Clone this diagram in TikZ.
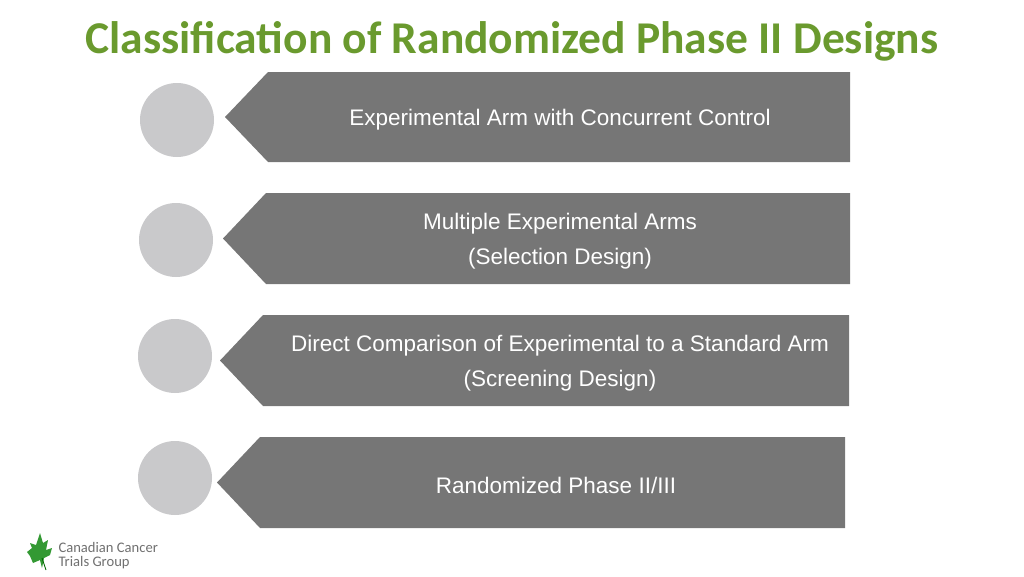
\documentclass[tikz,border=0pt]{standalone}
\usepackage{fontspec}
\setmainfont{Liberation Sans}
\newfontfamily\calib{Carlito}
\definecolor{titlegreen}{HTML}{6A9A2E}
\definecolor{boxgray}{HTML}{767676}
\definecolor{circgray}{HTML}{C9C9CB}
\definecolor{logogray}{HTML}{707070}
\tikzset{
  arrowbox/.style={fill=boxgray},
  bullet/.style={circle,fill=circgray,minimum size=74pt,inner sep=0pt},
  boxtext/.style={text=white,font=\fontsize{22.5}{35}\selectfont,align=center},
}
\begin{document}
\begin{tikzpicture}[x=1pt,y=-1pt]
\useasboundingbox (0,0) rectangle (1024,576);
\node (title) at (512,41) {\calib\bfseries\fontsize{45.5}{50}\selectfont\color{titlegreen}Classification of Randomized Phase II Designs};
\foreach \i/\tip/\top/\bot/\lb/\rt/\cx/\cy in {1/225/72/162/268/850/177/120, 2/223/193/284/266/850/176/240, 3/220/315/406/263/849/175/356, 4/217/437/528/260/845/175/478}{
  \fill[arrowbox] (\tip,{(\top+\bot)/2}) -- (\lb,\top) -- (\rt,\top) -- (\rt,\bot) -- (\lb,\bot) -- cycle;
  \node[bullet] (c\i) at (\cx,\cy) {};
}
\node[boxtext] (t1) at (560,120) {Experimental Arm with Concurrent Control};
\node[boxtext] (t2) at (560,241) {Multiple Experimental Arms\\(Selection Design)};
\node[boxtext] (t3) at (560,363) {Direct Comparison of Experimental to a Standard Arm\\(Screening Design)};
\node[boxtext] (t4) at (556,485) {Randomized Phase II/III};
% logo
\fill[green!50!black!80] (40,533) -- (43,543) -- (48,540) -- (46,550) -- (52,548) -- (50,555) -- (44,558) -- (42,568) -- (40,560) -- (33,563) -- (30,556) -- (27,552) -- (32,548) -- (30,543) -- (36,545) -- cycle;
\draw[green!40!black,line width=0.8pt] (42,558) -- (46,570);
\node[anchor=west,align=left,text=logogray,font=\calib\fontsize{14.6}{14}\selectfont] (logo) at (55,556) {Canadian Cancer\\Trials Group};
\end{tikzpicture}
\end{document}
